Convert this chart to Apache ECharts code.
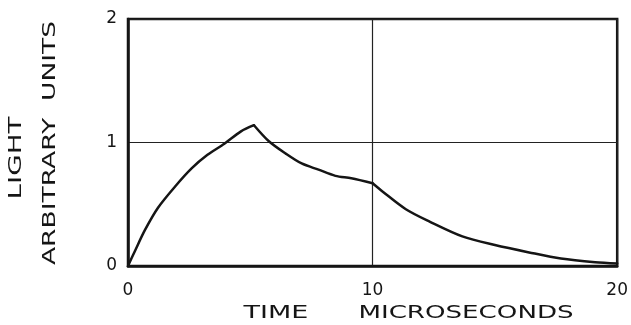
<!DOCTYPE html>
<html>
<head>
<meta charset="utf-8">
<script src="https://cdn.jsdelivr.net/npm/echarts@6/dist/echarts.min.js"></script>
<style>html,body{margin:0;padding:0;background:#fff;}#c{width:631px;height:325px;}</style>
</head>
<body>
<div id="c"></div>
<script>
// Data
var timeUs = [0, 0.28, 0.69, 1.22, 1.91, 2.6, 3.25, 3.94, 4.62, 5.15, 5.76, 6.45, 7.1, 7.79, 8.48, 9.13, 10, 10.43, 11.36, 12.33, 13.67, 15.0, 16.4, 17.7, 19.1, 20];
var light = [0, 0.12, 0.29, 0.47, 0.64, 0.79, 0.9, 0.99, 1.09, 1.14, 1.01, 0.91, 0.83, 0.78, 0.73, 0.71, 0.67, 0.6, 0.46, 0.36, 0.24, 0.17, 0.11, 0.06, 0.03, 0.02];
var kinkTimes = [5.15, 10]; // the curve has sharp corners at these times
var xTicks = [0, 10, 20];
var yTicks = [0, 1, 2];
var xTitleWords = ["TIME", "MICROSECONDS"];
var yTitleLines = ["LIGHT", "ARBITRARY  UNITS"];

var pts = timeUs.map(function (t, i) { return [t, light[i]]; });
// split into smooth pieces between the corners
var cuts = [0].concat(kinkTimes.map(function (k) { return timeUs.indexOf(k); })).concat([timeUs.length - 1]);
var ink = '#151515';
var FONT = '"DejaVu Sans", sans-serif';
var series = [];
for (var s = 0; s < cuts.length - 1; s++) {
  series.push({
    type: 'line', data: pts.slice(cuts[s], cuts[s + 1] + 1), showSymbol: false,
    smooth: 0.3,
    lineStyle: {color: ink, width: 2.5, cap: 'round', join: 'round'}, z: 5
  });
}

var chart = echarts.init(document.getElementById('c'), null, {renderer: 'canvas'});
chart.setOption({
  animation: false,
  backgroundColor: '#ffffff',
  grid: {left: 128, right: 10, top: 19, bottom: 59, show: true, borderColor: ink, borderWidth: 2.5, containLabel: false},
  xAxis: {
    type: 'value', min: xTicks[0], max: xTicks[xTicks.length - 1], interval: 10,
    axisLine: {show: true, lineStyle: {color: ink, width: 2.5}},
    axisTick: {show: false},
    splitLine: {show: true, lineStyle: {color: '#222', width: 1.2}},
    axisLabel: {color: ink, fontSize: 17, fontFamily: FONT, margin: 16,
      formatter: function (v) { return xTicks.indexOf(v) >= 0 ? String(v) : ''; }}
  },
  yAxis: {
    type: 'value', min: yTicks[0], max: yTicks[yTicks.length - 1], interval: 1,
    axisLine: {show: true, lineStyle: {color: ink, width: 2.5}},
    axisTick: {show: false},
    splitLine: {show: true, lineStyle: {color: '#222', width: 1.2}},
    axisLabel: {color: ink, fontSize: 17, fontFamily: FONT, margin: 11,
      formatter: function (v) { return yTicks.indexOf(v) >= 0 ? String(v) : ''; }}
  },
  graphic: [
    {type: 'text', x: 276, y: 313, scaleX: 1.5, style: {text: xTitleWords[0], font: '18px ' + FONT, fill: ink, align: 'center', verticalAlign: 'middle'}},
    {type: 'text', x: 466, y: 313, scaleX: 1.45, style: {text: xTitleWords[1], font: '18px ' + FONT, fill: ink, align: 'center', verticalAlign: 'middle'}},
    {type: 'text', x: 17, y: 158, rotation: Math.PI / 2, scaleX: 1.63, style: {text: yTitleLines[0], font: '17px ' + FONT, fill: ink, align: 'center', verticalAlign: 'middle'}},
    {type: 'text', x: 51, y: 143, rotation: Math.PI / 2, scaleX: 1.56, style: {text: yTitleLines[1], font: '17px ' + FONT, fill: ink, align: 'center', verticalAlign: 'middle'}}
  ],
  series: series
});
</script>
</body>
</html>
